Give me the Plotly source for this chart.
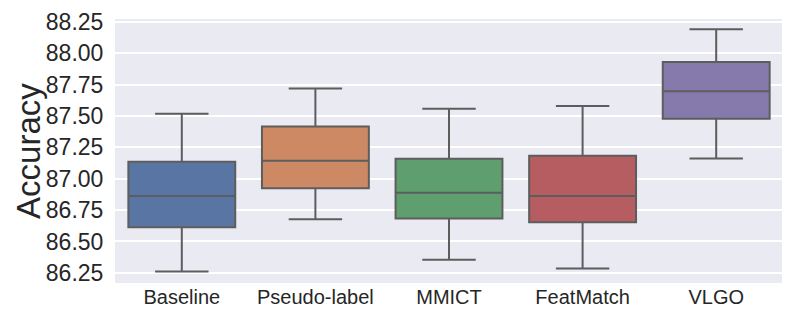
import plotly.graph_objects as go

# values
METHODS = ["Baseline", "Pseudo-label", "MMICT", "FeatMatch", "VLGO"]
LOWER   = [86.26, 86.677, 86.354, 86.284, 87.161]
Q1      = [86.614, 86.924, 86.684, 86.653, 87.479]
MEDIAN  = [86.862, 87.143, 86.888, 86.862, 87.698]
Q3      = [87.135, 87.416, 87.159, 87.184, 87.930]
UPPER   = [87.518, 87.72, 87.557, 87.58, 88.192]
COLORS  = ["#5875a4", "#cc8963", "#5f9e6e", "#b55d60", "#857aab"]
TICKS   = [86.25, 86.5, 86.75, 87.0, 87.25, 87.5, 87.75, 88.0, 88.25]

FONT = "Liberation Sans, Arial, sans-serif"
EDGE = "#5d5d5d"
TXT = "#262626"

fig = go.Figure()
for i, m in enumerate(METHODS):
    fig.add_trace(go.Box(
        x=[m], q1=[Q1[i]], median=[MEDIAN[i]], q3=[Q3[i]],
        lowerfence=[LOWER[i]], upperfence=[UPPER[i]],
        fillcolor=COLORS[i], line=dict(color=EDGE, width=2),
        whiskerwidth=0.5, width=0.8, boxpoints=False, showlegend=False,
        name=m))

# page body has an 8px margin, so the figure is shrunk to fit the window
fig.update_layout(
    width=782, height=312,
    margin=dict(l=107, r=7, t=11, b=37),
    paper_bgcolor="white", plot_bgcolor="#eaeaf2",
    boxmode="overlay",
    font=dict(family=FONT, color=TXT),
)
fig.update_xaxes(
    categoryorder="array", categoryarray=METHODS,
    range=[-0.5, len(METHODS) - 0.5],
    showgrid=False, zeroline=False, showline=False, automargin=False,
    tickfont=dict(size=20, color=TXT),
    ticks="", ticklabelstandoff=0,
)
fig.update_yaxes(
    range=[86.169, 88.273], tickvals=TICKS,
    ticktext=[f"{t:.2f}" for t in TICKS],
    gridcolor="white", gridwidth=1.5, zeroline=False, showline=False,
    automargin=False, ticklabeloverflow="allow",
    tickfont=dict(size=23, color=TXT),
    ticks="outside", ticklen=6, tickcolor="rgba(0,0,0,0)",
)
fig.add_annotation(
    text="Accuracy", textangle=-90, showarrow=False,
    xref="paper", yref="paper", x=-0.1303, y=0.5,
    xanchor="center", yanchor="middle",
    font=dict(size=33, color=TXT),
)

fig.write_html("out.html")
